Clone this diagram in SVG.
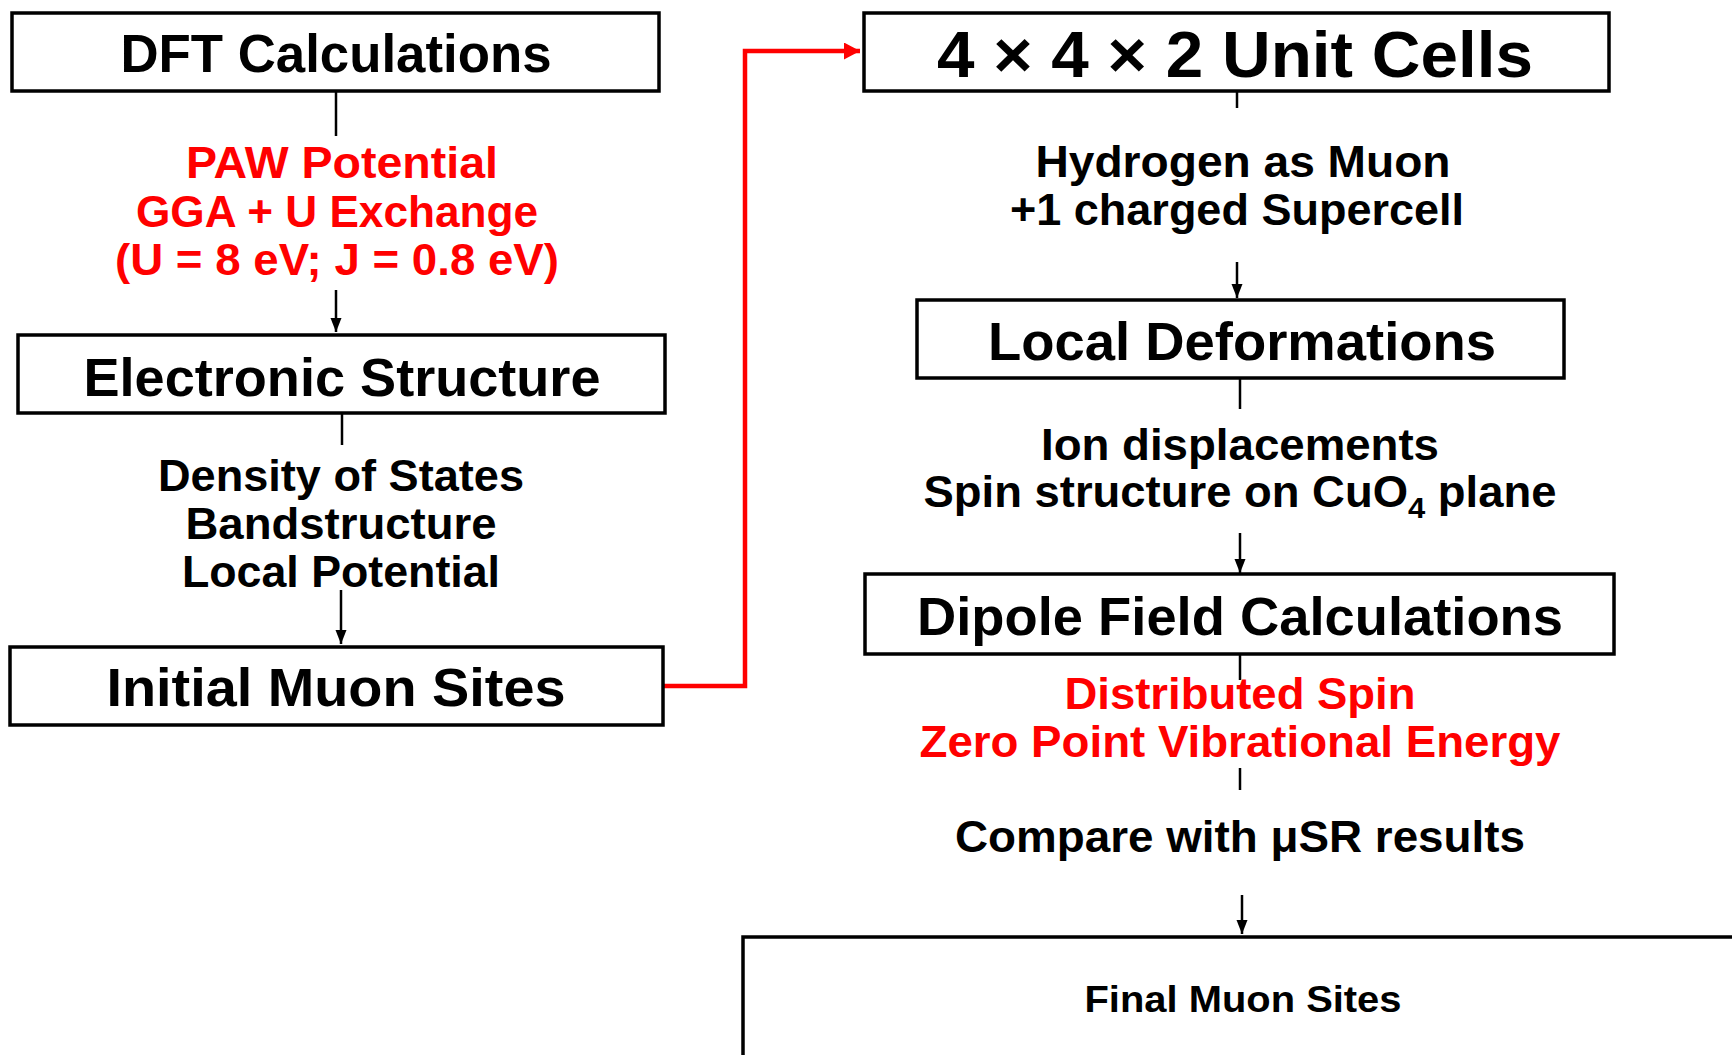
<svg xmlns="http://www.w3.org/2000/svg" width="1732" height="1055" viewBox="0 0 1732 1055">
<defs>
<style>
.box{fill:#fff;stroke:#000;stroke-width:3.5}
.t{font-family:"Liberation Sans",Arial,sans-serif;font-weight:bold;text-anchor:middle;fill:#000}
.title{font-size:54px}
.lbl{font-size:44px}
.red{fill:#ff0000}
.ln{stroke:#000;stroke-width:2.5;fill:none}
.rl{stroke:#ff0000;stroke-width:4.5;fill:none}
</style>
<marker id="ah" markerUnits="userSpaceOnUse" markerWidth="14" markerHeight="12" refX="14" refY="5.5" orient="auto">
<path d="M0,0 L14,5.5 L0,11 z" fill="#000"/>
</marker>
<marker id="ahr" markerUnits="userSpaceOnUse" markerWidth="18" markerHeight="18" refX="16" refY="8.5" orient="auto">
<path d="M0,0 L16,8.5 L0,17 z" fill="#ff0000"/>
</marker>
</defs>
<rect width="1732" height="1055" fill="#fff"/>

<g id="connectors">
<path class="ln" d="M336,91 V136"/>
<path class="ln" d="M336,290 V332" marker-end="url(#ah)"/>
<path class="ln" d="M342,413 V445"/>
<path class="ln" d="M341,590 V644" marker-end="url(#ah)"/>
<path class="rl" d="M663,686 H745 V51 H860" marker-end="url(#ahr)"/>
<path class="ln" d="M1237,91 V108"/>
<path class="ln" d="M1237,262 V298" marker-end="url(#ah)"/>
<path class="ln" d="M1240,378 V409"/>
<path class="ln" d="M1240,533 V573" marker-end="url(#ah)"/>
<path class="ln" d="M1240,654 V680"/>
<path class="ln" d="M1240,768 V790"/>
<path class="ln" d="M1242,895 V934" marker-end="url(#ah)"/>
</g>

<g id="dft">
<rect class="box" x="12" y="13" width="647" height="78"/>
<text class="t title" x="336" y="72" textLength="431" lengthAdjust="spacingAndGlyphs">DFT Calculations</text>
</g>

<g id="dft-params">
<text class="t lbl red" x="342" y="178" textLength="312" lengthAdjust="spacingAndGlyphs">PAW Potential</text>
<text class="t lbl red" x="337" y="227" textLength="402" lengthAdjust="spacingAndGlyphs">GGA + U Exchange</text>
<text class="t lbl red" x="337" y="275" textLength="444" lengthAdjust="spacingAndGlyphs">(U = 8 eV; J = 0.8 eV)</text>
</g>

<g id="electronic">
<rect class="box" x="18" y="335" width="647" height="78"/>
<text class="t title" x="342" y="396" textLength="517" lengthAdjust="spacingAndGlyphs">Electronic Structure</text>
</g>

<g id="electronic-outputs">
<text class="t lbl" x="341" y="491" textLength="366" lengthAdjust="spacingAndGlyphs">Density of States</text>
<text class="t lbl" x="341" y="539" textLength="311" lengthAdjust="spacingAndGlyphs">Bandstructure</text>
<text class="t lbl" x="341" y="587" textLength="318" lengthAdjust="spacingAndGlyphs">Local Potential</text>
</g>

<g id="initial">
<rect class="box" x="10" y="647" width="653" height="78"/>
<text class="t title" x="336" y="706" textLength="459" lengthAdjust="spacingAndGlyphs">Initial Muon Sites</text>
</g>

<g id="unitcells">
<rect class="box" x="864" y="13" width="745" height="78"/>
<text class="t" style="font-size:65px" x="1235" y="77" textLength="596" lengthAdjust="spacingAndGlyphs">4 × 4 × 2 Unit Cells</text>
</g>

<g id="hydrogen">
<text class="t lbl" x="1243" y="177" textLength="415" lengthAdjust="spacingAndGlyphs">Hydrogen as Muon</text>
<text class="t lbl" x="1237" y="225" textLength="454" lengthAdjust="spacingAndGlyphs">+1 charged Supercell</text>
</g>

<g id="local">
<rect class="box" x="917" y="300" width="647" height="78"/>
<text class="t title" x="1242" y="360" textLength="508" lengthAdjust="spacingAndGlyphs">Local Deformations</text>
</g>

<g id="ion">
<text class="t lbl" x="1240" y="460" textLength="398" lengthAdjust="spacingAndGlyphs">Ion displacements</text>
<text class="t lbl" x="1240" y="507" textLength="633" lengthAdjust="spacingAndGlyphs">Spin structure on CuO<tspan dy="11" style="font-size:30px">4</tspan><tspan dy="-11"> plane</tspan></text>
</g>

<g id="dipole">
<rect class="box" x="865" y="574" width="749" height="80"/>
<text class="t title" x="1240" y="635" textLength="646" lengthAdjust="spacingAndGlyphs">Dipole Field Calculations</text>
</g>

<g id="dipole-params">
<text class="t lbl red" x="1240" y="709" textLength="351" lengthAdjust="spacingAndGlyphs">Distributed Spin</text>
<text class="t lbl red" x="1240" y="757" textLength="641" lengthAdjust="spacingAndGlyphs">Zero Point Vibrational Energy</text>
</g>

<g id="compare">
<text class="t lbl" x="1240" y="852" textLength="570" lengthAdjust="spacingAndGlyphs">Compare with μSR results</text>
</g>

<g id="final">
<rect class="box" x="743" y="937" width="1100" height="200"/>
<text class="t" style="font-size:37px" x="1243" y="1012" textLength="317" lengthAdjust="spacingAndGlyphs">Final Muon Sites</text>
</g>
</svg>
